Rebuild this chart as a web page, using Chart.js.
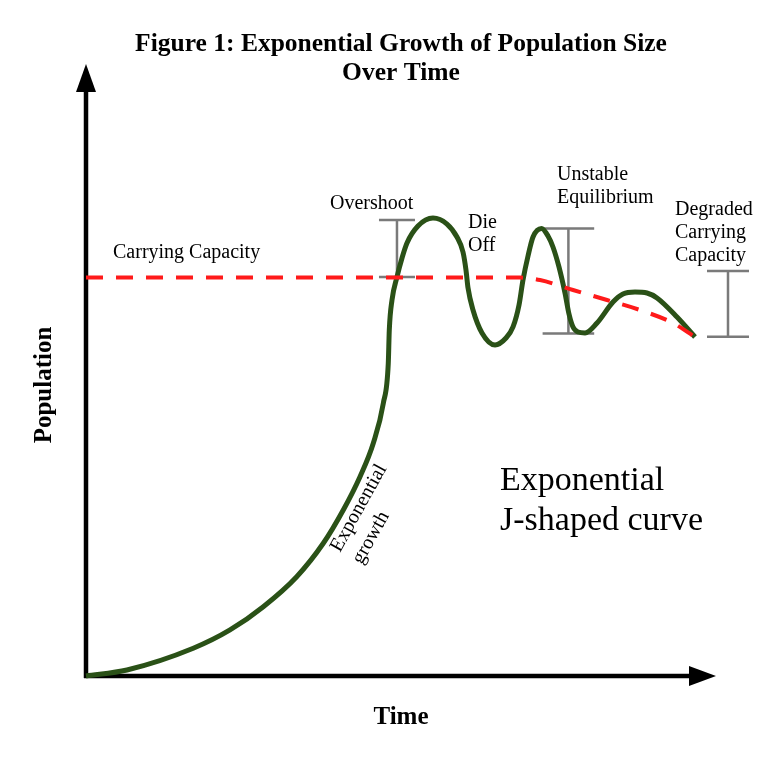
<!DOCTYPE html>
<html>
<head>
<meta charset="utf-8">
<title>Exponential Growth of Population Size Over Time</title>
<script src="https://cdn.jsdelivr.net/npm/chart.js@4.4.1/dist/chart.umd.min.js"></script>
<style>
  html, body { margin: 0; padding: 0; background: #fff; }
  #wrap { width: 777px; height: 768px; }
</style>
</head>
<body>
<div id="wrap"><canvas id="chart1"></canvas></div>
<script>
// population curve (time, population)
const time_pop = [0, 6.83, 17.88, 24, 29.55, 35.12, 39.55, 42.88, 45.67, 47.88, 49.55, 50.38, 50.55, 51,
  51.83, 52.67, 53.5, 55.33, 57.83, 60.17, 61.83, 62.83, 63.33, 63.67, 64.5, 66, 68.17, 70, 71.17, 72.17,
  72.83, 73.67, 74.5, 75.92, 77, 77.83, 78.83, 79.83, 80.5, 81.17, 82, 83.17, 85.17, 87.83, 89.5, 91.5,
  93.5, 95.17, 98.5, 101.5];
const data_pop = [0, 1, 4.62, 7.67, 11.55, 16.55, 22.12, 27.67, 33.22, 38.78, 45.45, 52.12, 57.67, 62.67,
  66.5, 69.67, 72.17, 75, 76.33, 75.33, 73.17, 70.67, 67.67, 64.67, 61, 57.17, 55.17, 56.33, 58.17, 61.83,
  66, 70, 73.17, 74.58, 73.33, 71.5, 68.17, 63.83, 60.33, 58.17, 57.33, 57.17, 58.83, 62.33, 63.67, 64,
  63.83, 63, 59.83, 56.5];

// carrying capacity
const time_cap = [0, 72.33, 75.67, 81.17, 86.83, 92.33, 97.83, 101.5];
const data_cap = [66.4, 66.4, 66, 64.33, 62.67, 61, 58.83, 56.5];

// range markers: overshoot, unstable equilibrium, degraded capacity
const bar_time = [51.83, 80.4, 107];
const bar_low = [66.5, 57.1, 56.55];
const bar_high = [76, 74.6, 67.5];
const bar_cap = [3, 4.3, 3.5];

const X_MAX = 112;
const Y_MAX = 100;

const notes = [
  { lines: ['Figure 1: Exponential Growth of Population Size', 'Over Time'], t: 52.5, p: 105.33, size: 25.5, bold: true, align: 'center', step: 29 },
  { lines: ['Carrying Capacity'], t: 4.5, p: 70.5, size: 20, align: 'left' },
  { lines: ['Overshoot'], t: 40.67, p: 78.67, size: 20, align: 'left' },
  { lines: ['Die', 'Off'], t: 63.67, p: 75.5, size: 20, align: 'left', step: 23 },
  { lines: ['Unstable', 'Equilibrium'], t: 78.5, p: 83.5, size: 20, align: 'left', step: 23 },
  { lines: ['Degraded', 'Carrying', 'Capacity'], t: 98.17, p: 77.67, size: 20, align: 'left', step: 23 },
  { lines: ['Exponential', 'J-shaped curve'], t: 69, p: 32.5, size: 34, align: 'left', step: 40 },
  { lines: ['Time'], t: 52.5, p: -7, size: 25, bold: true, align: 'center' }
];

const growthBars = [];
bar_time.forEach((t, i) => {
  const h = bar_cap[i];
  growthBars.push({
    data: [
      { x: t - h, y: bar_high[i] }, { x: t + h, y: bar_high[i] }, { x: t, y: null },
      { x: t, y: bar_high[i] }, { x: t, y: bar_low[i] }, { x: t, y: null },
      { x: t - h, y: bar_low[i] }, { x: t + h, y: bar_low[i] }
    ],
    borderColor: '#7a7a7a',
    borderWidth: 2.5,
    pointRadius: 0,
    tension: 0,
    spanGaps: false,
    clip: false,
    order: 3
  });
});

const axesArrows = {
  id: 'axesArrows',
  beforeDatasetsDraw(chart) {
    const ctx = chart.ctx;
    const xs = chart.scales.x, ys = chart.scales.y;
    const x0 = xs.getPixelForValue(0), y0 = ys.getPixelForValue(0);
    const xTip = xs.getPixelForValue(105), yTip = ys.getPixelForValue(102);
    ctx.save();
    ctx.strokeStyle = '#000';
    ctx.fillStyle = '#000';
    ctx.lineWidth = 4.5;
    ctx.beginPath();
    ctx.moveTo(x0, y0 + 2);
    ctx.lineTo(x0, yTip + 20);
    ctx.moveTo(x0 - 2, y0);
    ctx.lineTo(xTip - 20, y0);
    ctx.stroke();
    ctx.beginPath();
    ctx.moveTo(x0, yTip);
    ctx.lineTo(x0 - 10, yTip + 28);
    ctx.lineTo(x0 + 10, yTip + 28);
    ctx.closePath();
    ctx.fill();
    ctx.beginPath();
    ctx.moveTo(xTip, y0);
    ctx.lineTo(xTip - 27, y0 - 10);
    ctx.lineTo(xTip - 27, y0 + 10);
    ctx.closePath();
    ctx.fill();
    ctx.restore();
  }
};

const textNotes = {
  id: 'textNotes',
  afterDraw(chart) {
    const ctx = chart.ctx;
    const xs = chart.scales.x, ys = chart.scales.y;
    ctx.save();
    ctx.fillStyle = '#000';
    ctx.textBaseline = 'middle';
    notes.forEach(n => {
      ctx.font = (n.bold ? 'bold ' : '') + n.size + 'px "Liberation Serif", "Times New Roman", serif';
      ctx.textAlign = n.align;
      const x = xs.getPixelForValue(n.t);
      const y = ys.getPixelForValue(n.p);
      n.lines.forEach((line, i) => ctx.fillText(line, x, y + i * (n.step || 0)));
    });

    // y axis title
    ctx.font = 'bold 25px "Liberation Serif", "Times New Roman", serif';
    ctx.textAlign = 'center';
    ctx.translate(xs.getPixelForValue(-6.83), ys.getPixelForValue(48.5));
    ctx.rotate(-Math.PI / 2);
    ctx.fillText('Population', 0, 0);
    ctx.restore();

    // label along the growth curve
    ctx.save();
    ctx.fillStyle = '#000';
    ctx.font = '20px "Liberation Serif", "Times New Roman", serif';
    ctx.textAlign = 'left';
    ctx.textBaseline = 'alphabetic';
    ctx.translate(xs.getPixelForValue(42.33), ys.getPixelForValue(20.5));
    ctx.rotate(-61 * Math.PI / 180);
    ctx.fillText('Exponential', 0, 0);
    ctx.fillText('growth', 0, 25);
    ctx.restore();
  }
};

const config = {
  type: 'line',
  data: {
    datasets: [
      {
        label: 'Carrying capacity',
        data: time_cap.map((t, i) => ({ x: t, y: data_cap[i] })),
        borderColor: '#ff1a1a',
        borderWidth: 4,
        borderDash: [17, 13],
        pointRadius: 0,
        cubicInterpolationMode: 'monotone',
        clip: false,
        order: 1
      },
      {
        label: 'Population',
        data: time_pop.map((t, i) => ({ x: t, y: data_pop[i] })),
        borderColor: '#2a5117',
        borderWidth: 5,
        pointRadius: 0,
        cubicInterpolationMode: 'monotone',
        clip: false,
        order: 2
      },
      ...growthBars
    ]
  },
  options: {
    responsive: true,
    maintainAspectRatio: false,
    animation: false,
    layout: { padding: { left: 86, right: 777 - 86 - X_MAX * 6, top: 76, bottom: 92 } },
    scales: {
      x: { type: 'linear', min: 0, max: X_MAX, display: false },
      y: { type: 'linear', min: 0, max: Y_MAX, display: false }
    },
    plugins: {
      legend: { display: false },
      tooltip: { enabled: false },
      title: { display: false }
    }
  },
  plugins: [axesArrows, textNotes]
};

const chart1 = new Chart(document.getElementById('chart1'), config);
</script>
</body>
</html>
